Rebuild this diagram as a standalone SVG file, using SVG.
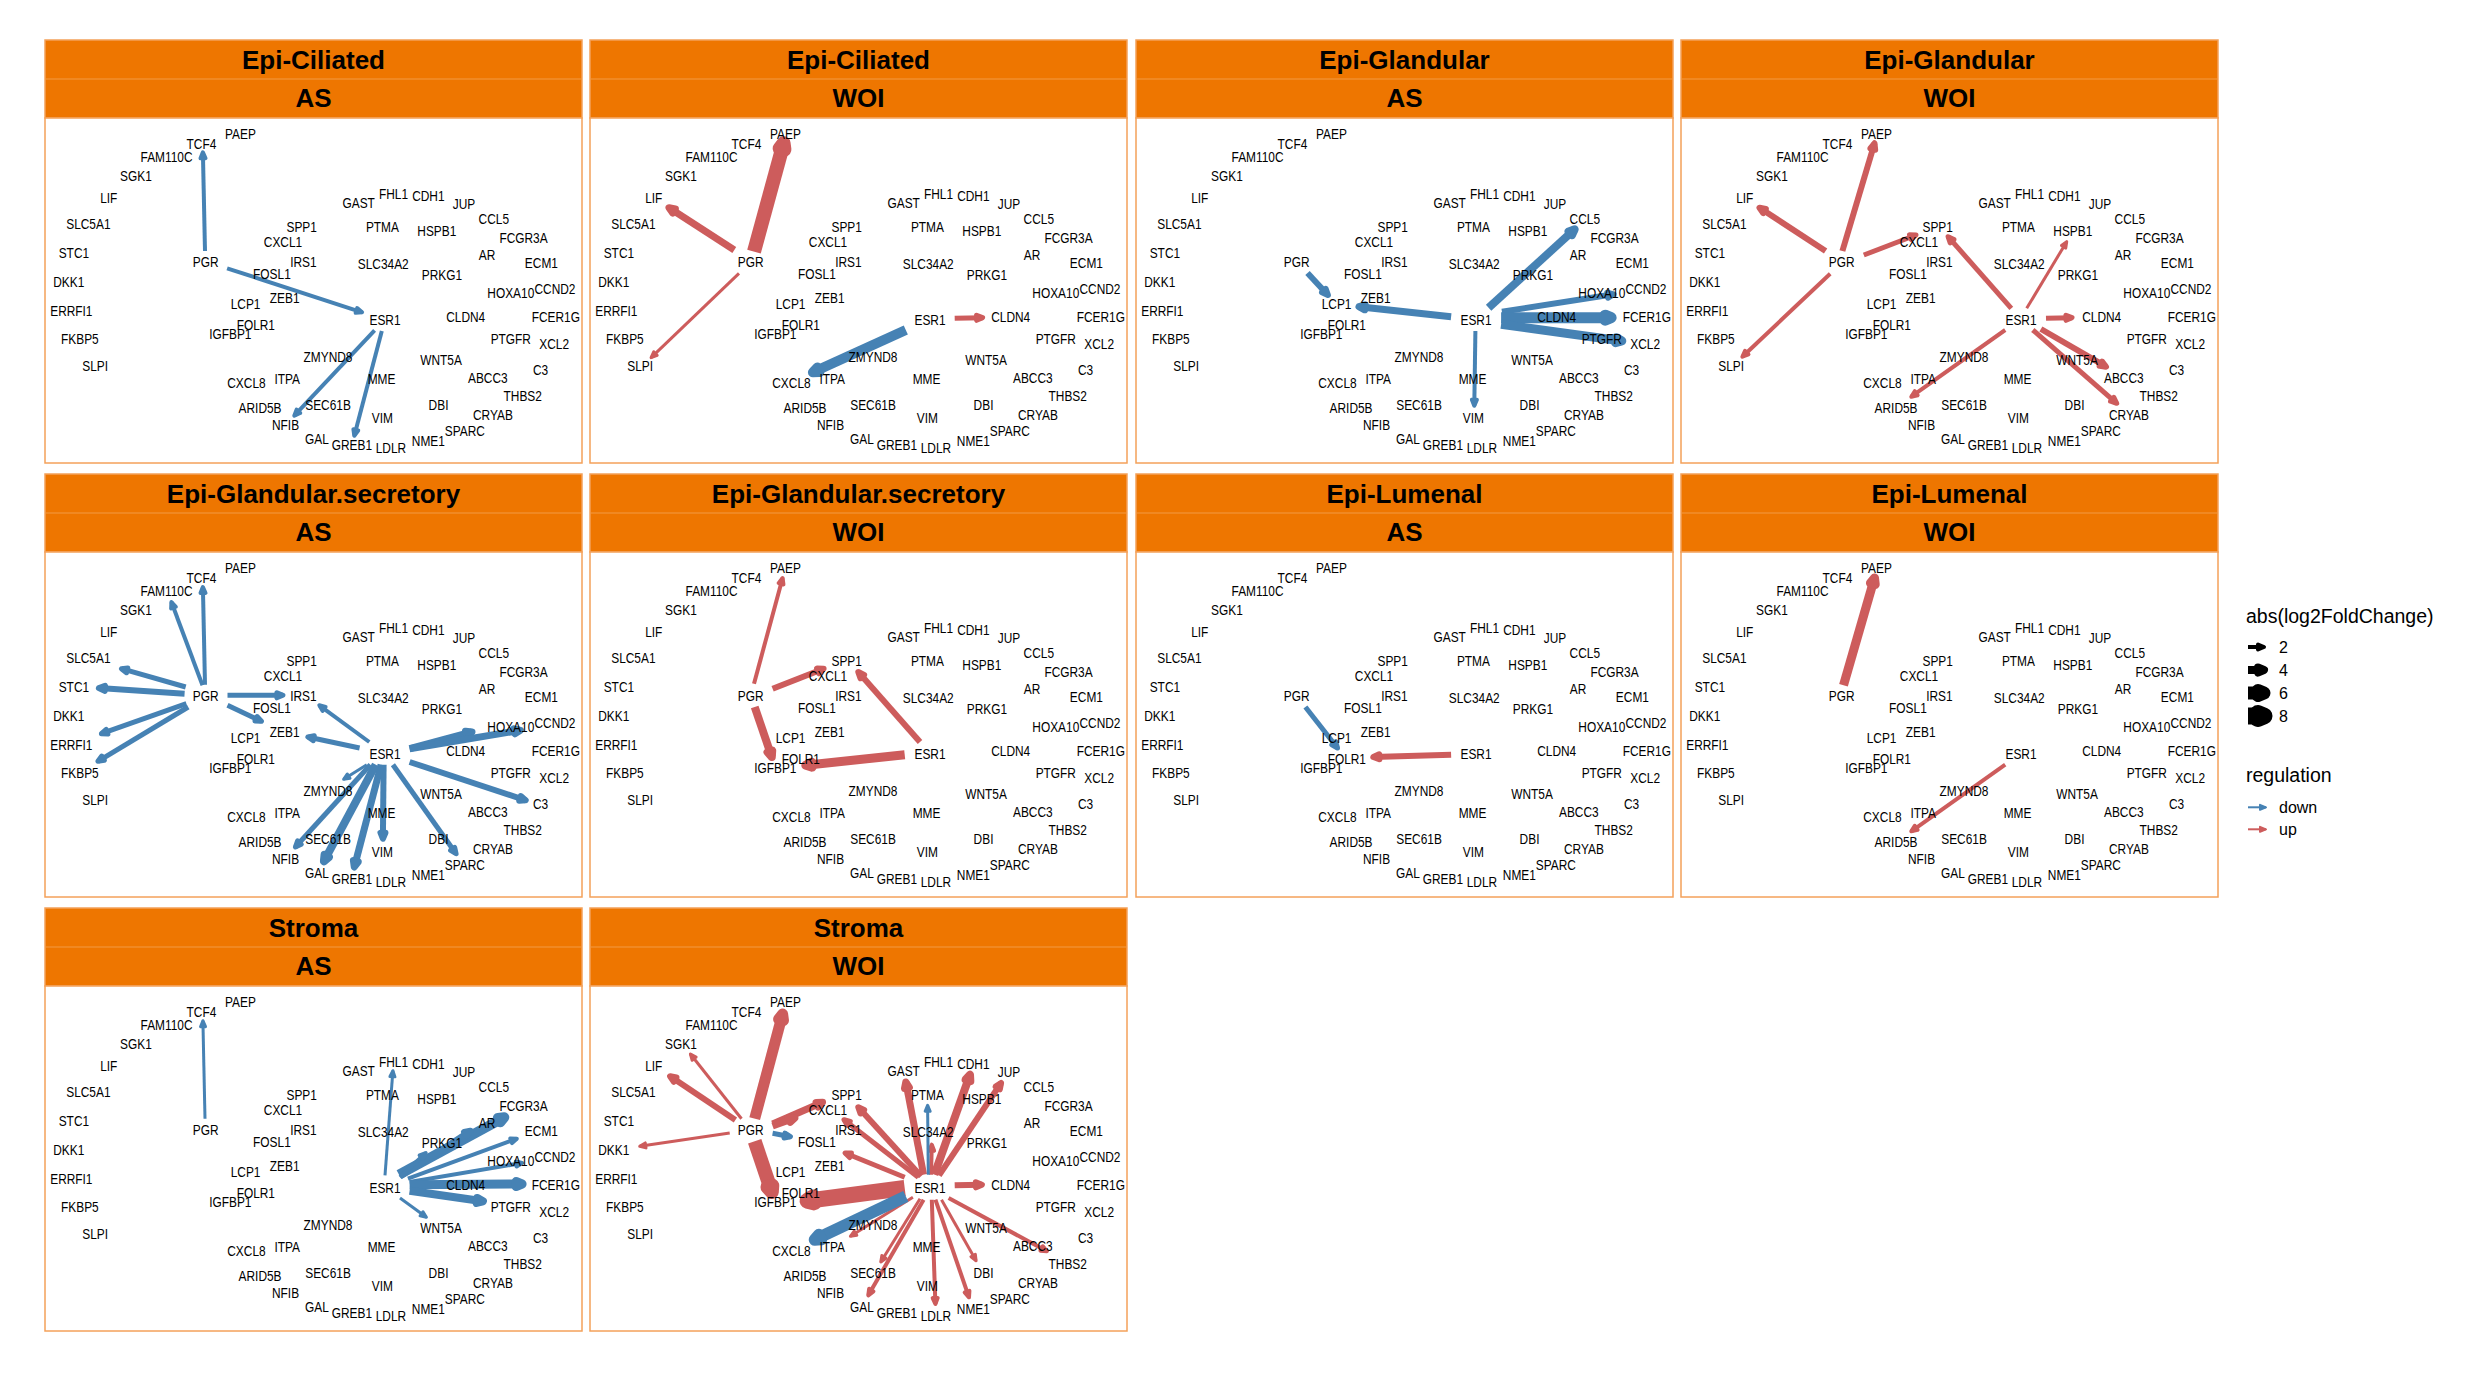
<svg xmlns="http://www.w3.org/2000/svg" width="2486" height="1376" viewBox="0 0 2486 1376">
<style>
.strip{fill:#EE7600;stroke:#F4A15A;stroke-width:1.5}
.body{fill:#fff;stroke:#F4A15A;stroke-width:1.5}
.div{stroke:#F29A45;stroke-width:1}
.ttl{font-family:"Liberation Sans",Arial,sans-serif;font-weight:bold;font-size:26px;text-anchor:middle;fill:#000}
.lbl text{font-family:"Liberation Sans",Arial,sans-serif;font-size:14px;text-anchor:middle;fill:#000}
.eb{stroke:#4682B4;fill:none}
.er{stroke:#CD5C5C;fill:none}
.ek{stroke:#000;fill:none}
.hb{fill:#4682B4;stroke:#4682B4;stroke-linejoin:round}
.hr{fill:#CD5C5C;stroke:#CD5C5C;stroke-linejoin:round}
.hk{fill:#000;stroke:#000;stroke-linejoin:round}
.lg{font-family:"Liberation Sans",Arial,sans-serif;fill:#000}
</style>
<defs>
<marker id="b2" viewBox="-30 -20 40 40" markerWidth="40" markerHeight="40" refX="0" refY="0" orient="auto" markerUnits="userSpaceOnUse" overflow="visible"><path class="hb" d="M-6,-2.5L0,0L-6,2.5Z" stroke-width="2"/></marker>
<marker id="b3" viewBox="-30 -20 40 40" markerWidth="40" markerHeight="40" refX="0" refY="0" orient="auto" markerUnits="userSpaceOnUse" overflow="visible"><path class="hb" d="M-6,-2.5L0,0L-6,2.5Z" stroke-width="3"/></marker>
<marker id="b4" viewBox="-30 -20 40 40" markerWidth="40" markerHeight="40" refX="0" refY="0" orient="auto" markerUnits="userSpaceOnUse" overflow="visible"><path class="hb" d="M-6,-2.5L0,0L-6,2.5Z" stroke-width="4"/></marker>
<marker id="b5" viewBox="-30 -20 40 40" markerWidth="40" markerHeight="40" refX="0" refY="0" orient="auto" markerUnits="userSpaceOnUse" overflow="visible"><path class="hb" d="M-6,-2.5L0,0L-6,2.5Z" stroke-width="5"/></marker>
<marker id="b6" viewBox="-30 -20 40 40" markerWidth="40" markerHeight="40" refX="0" refY="0" orient="auto" markerUnits="userSpaceOnUse" overflow="visible"><path class="hb" d="M-6,-2.5L0,0L-6,2.5Z" stroke-width="6"/></marker>
<marker id="b7" viewBox="-30 -20 40 40" markerWidth="40" markerHeight="40" refX="0" refY="0" orient="auto" markerUnits="userSpaceOnUse" overflow="visible"><path class="hb" d="M-6,-2.5L0,0L-6,2.5Z" stroke-width="7"/></marker>
<marker id="b8" viewBox="-30 -20 40 40" markerWidth="40" markerHeight="40" refX="0" refY="0" orient="auto" markerUnits="userSpaceOnUse" overflow="visible"><path class="hb" d="M-6,-2.5L0,0L-6,2.5Z" stroke-width="8"/></marker>
<marker id="b9" viewBox="-30 -20 40 40" markerWidth="40" markerHeight="40" refX="0" refY="0" orient="auto" markerUnits="userSpaceOnUse" overflow="visible"><path class="hb" d="M-6,-2.5L0,0L-6,2.5Z" stroke-width="9"/></marker>
<marker id="b10" viewBox="-30 -20 40 40" markerWidth="40" markerHeight="40" refX="0" refY="0" orient="auto" markerUnits="userSpaceOnUse" overflow="visible"><path class="hb" d="M-6,-2.5L0,0L-6,2.5Z" stroke-width="10"/></marker>
<marker id="b11" viewBox="-30 -20 40 40" markerWidth="40" markerHeight="40" refX="0" refY="0" orient="auto" markerUnits="userSpaceOnUse" overflow="visible"><path class="hb" d="M-6,-2.5L0,0L-6,2.5Z" stroke-width="11"/></marker>
<marker id="b12" viewBox="-30 -20 40 40" markerWidth="40" markerHeight="40" refX="0" refY="0" orient="auto" markerUnits="userSpaceOnUse" overflow="visible"><path class="hb" d="M-6,-2.5L0,0L-6,2.5Z" stroke-width="12"/></marker>
<marker id="r2" viewBox="-30 -20 40 40" markerWidth="40" markerHeight="40" refX="0" refY="0" orient="auto" markerUnits="userSpaceOnUse" overflow="visible"><path class="hr" d="M-6,-2.5L0,0L-6,2.5Z" stroke-width="2"/></marker>
<marker id="r3" viewBox="-30 -20 40 40" markerWidth="40" markerHeight="40" refX="0" refY="0" orient="auto" markerUnits="userSpaceOnUse" overflow="visible"><path class="hr" d="M-6,-2.5L0,0L-6,2.5Z" stroke-width="3"/></marker>
<marker id="r4" viewBox="-30 -20 40 40" markerWidth="40" markerHeight="40" refX="0" refY="0" orient="auto" markerUnits="userSpaceOnUse" overflow="visible"><path class="hr" d="M-6,-2.5L0,0L-6,2.5Z" stroke-width="4"/></marker>
<marker id="r5" viewBox="-30 -20 40 40" markerWidth="40" markerHeight="40" refX="0" refY="0" orient="auto" markerUnits="userSpaceOnUse" overflow="visible"><path class="hr" d="M-6,-2.5L0,0L-6,2.5Z" stroke-width="5"/></marker>
<marker id="r6" viewBox="-30 -20 40 40" markerWidth="40" markerHeight="40" refX="0" refY="0" orient="auto" markerUnits="userSpaceOnUse" overflow="visible"><path class="hr" d="M-6,-2.5L0,0L-6,2.5Z" stroke-width="6"/></marker>
<marker id="r7" viewBox="-30 -20 40 40" markerWidth="40" markerHeight="40" refX="0" refY="0" orient="auto" markerUnits="userSpaceOnUse" overflow="visible"><path class="hr" d="M-6,-2.5L0,0L-6,2.5Z" stroke-width="7"/></marker>
<marker id="r8" viewBox="-30 -20 40 40" markerWidth="40" markerHeight="40" refX="0" refY="0" orient="auto" markerUnits="userSpaceOnUse" overflow="visible"><path class="hr" d="M-6,-2.5L0,0L-6,2.5Z" stroke-width="8"/></marker>
<marker id="r9" viewBox="-30 -20 40 40" markerWidth="40" markerHeight="40" refX="0" refY="0" orient="auto" markerUnits="userSpaceOnUse" overflow="visible"><path class="hr" d="M-6,-2.5L0,0L-6,2.5Z" stroke-width="9"/></marker>
<marker id="r11" viewBox="-30 -20 40 40" markerWidth="40" markerHeight="40" refX="0" refY="0" orient="auto" markerUnits="userSpaceOnUse" overflow="visible"><path class="hr" d="M-6,-2.5L0,0L-6,2.5Z" stroke-width="11"/></marker>
<marker id="r14" viewBox="-30 -20 40 40" markerWidth="40" markerHeight="40" refX="0" refY="0" orient="auto" markerUnits="userSpaceOnUse" overflow="visible"><path class="hr" d="M-6,-2.5L0,0L-6,2.5Z" stroke-width="14"/></marker>
<marker id="r16" viewBox="-30 -20 40 40" markerWidth="40" markerHeight="40" refX="0" refY="0" orient="auto" markerUnits="userSpaceOnUse" overflow="visible"><path class="hr" d="M-6,-2.5L0,0L-6,2.5Z" stroke-width="16"/></marker>
<marker id="k4" viewBox="-30 -20 40 40" markerWidth="40" markerHeight="40" refX="0" refY="0" orient="auto" markerUnits="userSpaceOnUse" overflow="visible"><path class="hk" d="M-6,-2.5L0,0L-6,2.5Z" stroke-width="4"/></marker>
<marker id="k8" viewBox="-30 -20 40 40" markerWidth="40" markerHeight="40" refX="0" refY="0" orient="auto" markerUnits="userSpaceOnUse" overflow="visible"><path class="hk" d="M-6,-2.5L0,0L-6,2.5Z" stroke-width="8"/></marker>
<marker id="k13" viewBox="-30 -20 40 40" markerWidth="40" markerHeight="40" refX="0" refY="0" orient="auto" markerUnits="userSpaceOnUse" overflow="visible"><path class="hk" d="M-6,-2.5L0,0L-6,2.5Z" stroke-width="13"/></marker>
<marker id="k17" viewBox="-30 -20 40 40" markerWidth="40" markerHeight="40" refX="0" refY="0" orient="auto" markerUnits="userSpaceOnUse" overflow="visible"><path class="hk" d="M-6,-2.5L0,0L-6,2.5Z" stroke-width="17"/></marker>
</defs>
<rect width="2486" height="1376" fill="#fff"/>
<g id="panels">
<g id="panel-1" transform="translate(45,40)"><rect class="strip" width="537" height="78"/><line class="div" x1="0" y1="39" x2="537" y2="39"/><rect class="body" y="78" width="537" height="345"/><text class="ttl" x="268.5" y="28.5">Epi-Ciliated</text><text class="ttl" x="268.5" y="67">AS</text></g>
<g id="panel-2" transform="translate(590,40)"><rect class="strip" width="537" height="78"/><line class="div" x1="0" y1="39" x2="537" y2="39"/><rect class="body" y="78" width="537" height="345"/><text class="ttl" x="268.5" y="28.5">Epi-Ciliated</text><text class="ttl" x="268.5" y="67">WOI</text></g>
<g id="panel-3" transform="translate(1136,40)"><rect class="strip" width="537" height="78"/><line class="div" x1="0" y1="39" x2="537" y2="39"/><rect class="body" y="78" width="537" height="345"/><text class="ttl" x="268.5" y="28.5">Epi-Glandular</text><text class="ttl" x="268.5" y="67">AS</text></g>
<g id="panel-4" transform="translate(1681,40)"><rect class="strip" width="537" height="78"/><line class="div" x1="0" y1="39" x2="537" y2="39"/><rect class="body" y="78" width="537" height="345"/><text class="ttl" x="268.5" y="28.5">Epi-Glandular</text><text class="ttl" x="268.5" y="67">WOI</text></g>
<g id="panel-5" transform="translate(45,474)"><rect class="strip" width="537" height="78"/><line class="div" x1="0" y1="39" x2="537" y2="39"/><rect class="body" y="78" width="537" height="345"/><text class="ttl" x="268.5" y="28.5">Epi-Glandular.secretory</text><text class="ttl" x="268.5" y="67">AS</text></g>
<g id="panel-6" transform="translate(590,474)"><rect class="strip" width="537" height="78"/><line class="div" x1="0" y1="39" x2="537" y2="39"/><rect class="body" y="78" width="537" height="345"/><text class="ttl" x="268.5" y="28.5">Epi-Glandular.secretory</text><text class="ttl" x="268.5" y="67">WOI</text></g>
<g id="panel-7" transform="translate(1136,474)"><rect class="strip" width="537" height="78"/><line class="div" x1="0" y1="39" x2="537" y2="39"/><rect class="body" y="78" width="537" height="345"/><text class="ttl" x="268.5" y="28.5">Epi-Lumenal</text><text class="ttl" x="268.5" y="67">AS</text></g>
<g id="panel-8" transform="translate(1681,474)"><rect class="strip" width="537" height="78"/><line class="div" x1="0" y1="39" x2="537" y2="39"/><rect class="body" y="78" width="537" height="345"/><text class="ttl" x="268.5" y="28.5">Epi-Lumenal</text><text class="ttl" x="268.5" y="67">WOI</text></g>
<g id="panel-9" transform="translate(45,908)"><rect class="strip" width="537" height="78"/><line class="div" x1="0" y1="39" x2="537" y2="39"/><rect class="body" y="78" width="537" height="345"/><text class="ttl" x="268.5" y="28.5">Stroma</text><text class="ttl" x="268.5" y="67">AS</text></g>
<g id="panel-10" transform="translate(590,908)"><rect class="strip" width="537" height="78"/><line class="div" x1="0" y1="39" x2="537" y2="39"/><rect class="body" y="78" width="537" height="345"/><text class="ttl" x="268.5" y="28.5">Stroma</text><text class="ttl" x="268.5" y="67">WOI</text></g>
</g>
<g id="connectors">
<g id="edges-1" transform="translate(45,40)">
<line class="eb" x1="160" y1="211" x2="157.9" y2="112.3" stroke-width="4" marker-end="url(#b4)"/>
<line class="eb" x1="182.1" y1="228.3" x2="317.1" y2="272.3" stroke-width="4" marker-end="url(#b4)"/>
<line class="eb" x1="329.6" y1="290.3" x2="249.3" y2="375.7" stroke-width="4" marker-end="url(#b4)"/>
<line class="eb" x1="336.8" y1="291" x2="309.3" y2="395.7" stroke-width="4" marker-end="url(#b4)"/>
</g>
<g id="edges-2" transform="translate(590,40)">
<line class="er" x1="164" y1="211.7" x2="193.6" y2="103.3" stroke-width="14" marker-end="url(#r14)"/>
<line class="er" x1="144.3" y1="210" x2="79" y2="167.7" stroke-width="7" marker-end="url(#r7)"/>
<line class="er" x1="149" y1="233.3" x2="61.1" y2="317.7" stroke-width="3" marker-end="url(#r3)"/>
<line class="eb" x1="315.8" y1="290" x2="222.9" y2="332.3" stroke-width="10" marker-end="url(#b10)"/>
<line class="er" x1="364.7" y1="278.3" x2="392.6" y2="277.7" stroke-width="5" marker-end="url(#r5)"/>
</g>
<g id="edges-3" transform="translate(1136,40)">
<line class="eb" x1="171.5" y1="233" x2="191.9" y2="255" stroke-width="6" marker-end="url(#b6)"/>
<line class="eb" x1="315.1" y1="276.7" x2="223" y2="266.7" stroke-width="7" marker-end="url(#b7)"/>
<line class="eb" x1="352.6" y1="267.7" x2="438.7" y2="189.3" stroke-width="8" marker-end="url(#b8)"/>
<line class="eb" x1="365.9" y1="271.7" x2="477.6" y2="254.3" stroke-width="6" marker-end="url(#b6)"/>
<line class="eb" x1="365.1" y1="277.7" x2="475.1" y2="277.7" stroke-width="11" marker-end="url(#b11)"/>
<line class="eb" x1="365.1" y1="284.3" x2="485.8" y2="301" stroke-width="9" marker-end="url(#b9)"/>
<line class="eb" x1="339.4" y1="291" x2="338.3" y2="365.7" stroke-width="4" marker-end="url(#b4)"/>
</g>
<g id="edges-4" transform="translate(1681,40)">
<line class="er" x1="161.4" y1="211" x2="193.5" y2="103.3" stroke-width="6" marker-end="url(#r6)"/>
<line class="er" x1="144.6" y1="211" x2="78.5" y2="167.7" stroke-width="6" marker-end="url(#r6)"/>
<line class="er" x1="149.2" y1="233.7" x2="61.4" y2="316.7" stroke-width="4" marker-end="url(#r4)"/>
<line class="er" x1="182.8" y1="215" x2="235" y2="195" stroke-width="5" marker-end="url(#r5)"/>
<line class="er" x1="330.3" y1="268.3" x2="267.1" y2="196.7" stroke-width="5" marker-end="url(#r5)"/>
<line class="er" x1="345.7" y1="268.3" x2="385.7" y2="201.7" stroke-width="3" marker-end="url(#r3)"/>
<line class="er" x1="365" y1="278.3" x2="391" y2="277.7" stroke-width="5" marker-end="url(#r5)"/>
<line class="er" x1="359.9" y1="289" x2="425" y2="326.7" stroke-width="6" marker-end="url(#r6)"/>
<line class="er" x1="351.8" y1="290" x2="435.7" y2="363.3" stroke-width="5" marker-end="url(#r5)"/>
<line class="er" x1="324.2" y1="290" x2="230.3" y2="356.7" stroke-width="4" marker-end="url(#r4)"/>
</g>
<g id="edges-5" transform="translate(45,474)">
<line class="eb" x1="160" y1="210.7" x2="157.9" y2="113" stroke-width="4" marker-end="url(#b4)"/>
<line class="eb" x1="157.5" y1="211.3" x2="126.4" y2="128" stroke-width="4" marker-end="url(#b4)"/>
<line class="eb" x1="140.7" y1="213" x2="76.4" y2="194.7" stroke-width="5" marker-end="url(#b5)"/>
<line class="eb" x1="139.6" y1="219.7" x2="53.9" y2="214" stroke-width="6" marker-end="url(#b6)"/>
<line class="eb" x1="141.4" y1="229.7" x2="56.4" y2="259.7" stroke-width="5" marker-end="url(#b5)"/>
<line class="eb" x1="143.2" y1="233" x2="52.9" y2="287.3" stroke-width="5" marker-end="url(#b5)"/>
<line class="eb" x1="182.5" y1="221.3" x2="237.9" y2="221.3" stroke-width="5" marker-end="url(#b5)"/>
<line class="eb" x1="182.5" y1="231.3" x2="216.4" y2="247.3" stroke-width="5" marker-end="url(#b5)"/>
<line class="eb" x1="324.3" y1="268" x2="274.3" y2="231.3" stroke-width="4" marker-end="url(#b4)"/>
<line class="eb" x1="314.6" y1="274" x2="262.9" y2="263" stroke-width="5" marker-end="url(#b5)"/>
<line class="eb" x1="364.6" y1="274.7" x2="427" y2="258" stroke-width="7" marker-end="url(#b7)"/>
<line class="eb" x1="364.6" y1="274.7" x2="475.4" y2="256.3" stroke-width="7" marker-end="url(#b7)"/>
<line class="eb" x1="364.6" y1="288" x2="480.7" y2="326.3" stroke-width="6" marker-end="url(#b6)"/>
<line class="eb" x1="347.9" y1="290.7" x2="411.1" y2="379.7" stroke-width="5" marker-end="url(#b5)"/>
<line class="eb" x1="338.6" y1="290.7" x2="337.9" y2="364.7" stroke-width="6" marker-end="url(#b6)"/>
<line class="eb" x1="336.1" y1="290.7" x2="309.3" y2="393" stroke-width="7" marker-end="url(#b7)"/>
<line class="eb" x1="330.7" y1="290.7" x2="278.9" y2="387.3" stroke-width="8" marker-end="url(#b8)"/>
<line class="eb" x1="325.4" y1="290.7" x2="250.4" y2="373" stroke-width="5" marker-end="url(#b5)"/>
<line class="eb" x1="321.8" y1="290.7" x2="298.6" y2="305.3" stroke-width="3" marker-end="url(#b3)"/>
</g>
<g id="edges-6" transform="translate(590,474)">
<line class="er" x1="164" y1="209.7" x2="192.6" y2="104" stroke-width="4" marker-end="url(#r4)"/>
<line class="er" x1="182.6" y1="214.7" x2="233.6" y2="194.7" stroke-width="6" marker-end="url(#r6)"/>
<line class="er" x1="164.7" y1="233" x2="181.8" y2="283" stroke-width="8" marker-end="url(#r8)"/>
<line class="er" x1="330" y1="268" x2="268.3" y2="198" stroke-width="6" marker-end="url(#r6)"/>
<line class="er" x1="314.7" y1="280.7" x2="215.8" y2="291.3" stroke-width="9" marker-end="url(#r9)"/>
</g>
<g id="edges-7" transform="translate(1136,474)">
<line class="eb" x1="169.4" y1="233" x2="201.5" y2="274" stroke-width="5" marker-end="url(#b5)"/>
<line class="er" x1="315.1" y1="280.7" x2="237.3" y2="283" stroke-width="6" marker-end="url(#r6)"/>
</g>
<g id="edges-8" transform="translate(1681,474)">
<line class="er" x1="162.5" y1="211.3" x2="193.5" y2="104" stroke-width="9" marker-end="url(#r9)"/>
<line class="er" x1="324.2" y1="290.7" x2="230.3" y2="357.3" stroke-width="4" marker-end="url(#r4)"/>
</g>
<g id="edges-9" transform="translate(45,908)">
<line class="eb" x1="160" y1="210.7" x2="157.9" y2="112.7" stroke-width="3" marker-end="url(#b3)"/>
<line class="eb" x1="340" y1="267.3" x2="347.9" y2="162.7" stroke-width="3" marker-end="url(#b3)"/>
<line class="eb" x1="354" y1="266.7" x2="459.3" y2="209.3" stroke-width="10" marker-end="url(#b10)"/>
<line class="eb" x1="355.7" y1="268.3" x2="425.4" y2="222.7" stroke-width="6" marker-end="url(#b6)"/>
<line class="eb" x1="355" y1="269.3" x2="380.7" y2="245" stroke-width="4" marker-end="url(#b4)"/>
<line class="eb" x1="362.9" y1="270.7" x2="471.8" y2="230.7" stroke-width="4" marker-end="url(#b4)"/>
<line class="eb" x1="364.6" y1="274" x2="477.1" y2="255" stroke-width="4" marker-end="url(#b4)"/>
<line class="eb" x1="364.6" y1="276.7" x2="477.1" y2="276" stroke-width="9" marker-end="url(#b9)"/>
<line class="eb" x1="364.6" y1="282.7" x2="437.9" y2="293.3" stroke-width="8" marker-end="url(#b8)"/>
<line class="eb" x1="355" y1="290" x2="381.4" y2="309.3" stroke-width="3" marker-end="url(#b3)"/>
</g>
<g id="edges-10" transform="translate(590,908)">
<line class="er" x1="164.7" y1="210.7" x2="192.6" y2="106" stroke-width="11" marker-end="url(#r11)"/>
<line class="er" x1="151.5" y1="210.7" x2="100.4" y2="146" stroke-width="3" marker-end="url(#r3)"/>
<line class="er" x1="145.4" y1="212" x2="80.1" y2="168.3" stroke-width="6" marker-end="url(#r6)"/>
<line class="er" x1="139.7" y1="225" x2="49.7" y2="238.3" stroke-width="3" marker-end="url(#r3)"/>
<line class="er" x1="182.6" y1="216" x2="232.6" y2="194.3" stroke-width="7" marker-end="url(#r7)"/>
<line class="er" x1="182.6" y1="218" x2="205" y2="210" stroke-width="7" marker-end="url(#r7)"/>
<line class="eb" x1="182.6" y1="225.3" x2="200.4" y2="228.7" stroke-width="5" marker-end="url(#b5)"/>
<line class="er" x1="164.7" y1="233.3" x2="181.8" y2="284" stroke-width="14" marker-end="url(#r14)"/>
<line class="er" x1="314.7" y1="280" x2="217.6" y2="292.7" stroke-width="16" marker-end="url(#r16)"/>
<line class="er" x1="331.1" y1="268.3" x2="268.3" y2="199.3" stroke-width="6" marker-end="url(#r6)"/>
<line class="er" x1="328.3" y1="269.3" x2="254" y2="211.7" stroke-width="5" marker-end="url(#r5)"/>
<line class="er" x1="314.7" y1="269.3" x2="255" y2="245" stroke-width="5" marker-end="url(#r5)"/>
<line class="er" x1="333.6" y1="266.7" x2="315.8" y2="174" stroke-width="7" marker-end="url(#r7)"/>
<line class="er" x1="341" y1="266.7" x2="341.8" y2="236.7" stroke-width="4" marker-end="url(#r4)"/>
<line class="er" x1="344.4" y1="266.7" x2="380" y2="166.7" stroke-width="8" marker-end="url(#r8)"/>
<line class="er" x1="349" y1="267.3" x2="411.1" y2="175" stroke-width="6" marker-end="url(#r6)"/>
<line class="eb" x1="338.3" y1="266.7" x2="337.6" y2="197.3" stroke-width="3" marker-end="url(#b3)"/>
<line class="er" x1="364.7" y1="277.3" x2="391.9" y2="276.7" stroke-width="6" marker-end="url(#r6)"/>
<line class="er" x1="358.6" y1="290" x2="456.9" y2="343.3" stroke-width="4" marker-end="url(#r4)"/>
<line class="er" x1="351.5" y1="291.7" x2="386.1" y2="352.7" stroke-width="3" marker-end="url(#r3)"/>
<line class="er" x1="345.4" y1="291.7" x2="379" y2="389.3" stroke-width="4" marker-end="url(#r4)"/>
<line class="er" x1="341.8" y1="291.7" x2="345.4" y2="396" stroke-width="4" marker-end="url(#r4)"/>
<line class="er" x1="333.6" y1="291.7" x2="278.3" y2="387.3" stroke-width="4" marker-end="url(#r4)"/>
<line class="er" x1="330" y1="290.7" x2="290.8" y2="354" stroke-width="3" marker-end="url(#r3)"/>
<line class="er" x1="322.9" y1="289.3" x2="260.4" y2="328.3" stroke-width="3" marker-end="url(#r3)"/>
<line class="eb" x1="315.8" y1="288.3" x2="224.7" y2="331.7" stroke-width="12" marker-end="url(#b12)"/>
</g>
</g>
<g id="nodes" class="lbl">
<g id="labels-1" transform="translate(45,40) scale(0.85,1)">
<g id="p1-PAEP"><text x="230" y="99">PAEP</text></g><g id="p1-TCF4"><text x="184" y="109">TCF4</text></g><g id="p1-FAM110C"><text x="143" y="122">FAM110C</text></g><g id="p1-SGK1"><text x="107" y="141">SGK1</text></g><g id="p1-LIF"><text x="75" y="163">LIF</text></g><g id="p1-SLC5A1"><text x="51" y="189">SLC5A1</text></g><g id="p1-STC1"><text x="34" y="218">STC1</text></g><g id="p1-DKK1"><text x="28" y="247">DKK1</text></g><g id="p1-ERRFI1"><text x="31" y="276">ERRFI1</text></g><g id="p1-FKBP5"><text x="41" y="304">FKBP5</text></g><g id="p1-SLPI"><text x="59" y="331">SLPI</text></g><g id="p1-PGR"><text x="189" y="227">PGR</text></g><g id="p1-SPP1"><text x="302" y="192">SPP1</text></g><g id="p1-CXCL1"><text x="280" y="207">CXCL1</text></g><g id="p1-IRS1"><text x="304" y="227">IRS1</text></g><g id="p1-FOSL1"><text x="267" y="239">FOSL1</text></g><g id="p1-ZEB1"><text x="282" y="263">ZEB1</text></g><g id="p1-LCP1"><text x="236" y="269">LCP1</text></g><g id="p1-FOLR1"><text x="248" y="290">FOLR1</text></g><g id="p1-IGFBP1"><text x="218" y="299">IGFBP1</text></g><g id="p1-GAST"><text x="369" y="168">GAST</text></g><g id="p1-FHL1"><text x="410" y="159">FHL1</text></g><g id="p1-CDH1"><text x="451" y="161">CDH1</text></g><g id="p1-JUP"><text x="493" y="169">JUP</text></g><g id="p1-CCL5"><text x="528" y="184">CCL5</text></g><g id="p1-PTMA"><text x="397" y="192">PTMA</text></g><g id="p1-HSPB1"><text x="461" y="196">HSPB1</text></g><g id="p1-FCGR3A"><text x="563" y="203">FCGR3A</text></g><g id="p1-AR"><text x="520" y="220">AR</text></g><g id="p1-ECM1"><text x="584" y="228">ECM1</text></g><g id="p1-SLC34A2"><text x="398" y="229">SLC34A2</text></g><g id="p1-PRKG1"><text x="467" y="240">PRKG1</text></g><g id="p1-HOXA10"><text x="548" y="258">HOXA10</text></g><g id="p1-CCND2"><text x="600" y="254">CCND2</text></g><g id="p1-ESR1"><text x="400" y="285">ESR1</text></g><g id="p1-CLDN4"><text x="495" y="282">CLDN4</text></g><g id="p1-FCER1G"><text x="601" y="282">FCER1G</text></g><g id="p1-PTGFR"><text x="548" y="304">PTGFR</text></g><g id="p1-XCL2"><text x="599" y="309">XCL2</text></g><g id="p1-ZMYND8"><text x="333" y="322">ZMYND8</text></g><g id="p1-WNT5A"><text x="466" y="325">WNT5A</text></g><g id="p1-C3"><text x="583" y="335">C3</text></g><g id="p1-ABCC3"><text x="521" y="343">ABCC3</text></g><g id="p1-CXCL8"><text x="237" y="348">CXCL8</text></g><g id="p1-ITPA"><text x="285" y="344">ITPA</text></g><g id="p1-MME"><text x="396" y="344">MME</text></g><g id="p1-THBS2"><text x="562" y="361">THBS2</text></g><g id="p1-ARID5B"><text x="253" y="373">ARID5B</text></g><g id="p1-SEC61B"><text x="333" y="370">SEC61B</text></g><g id="p1-DBI"><text x="463" y="370">DBI</text></g><g id="p1-CRYAB"><text x="527" y="380">CRYAB</text></g><g id="p1-VIM"><text x="397" y="383">VIM</text></g><g id="p1-NFIB"><text x="283" y="390">NFIB</text></g><g id="p1-SPARC"><text x="494" y="396">SPARC</text></g><g id="p1-GAL"><text x="320" y="404">GAL</text></g><g id="p1-GREB1"><text x="361" y="410">GREB1</text></g><g id="p1-LDLR"><text x="407" y="413">LDLR</text></g><g id="p1-NME1"><text x="451" y="406">NME1</text></g>
</g>
<g id="labels-2" transform="translate(590,40) scale(0.85,1)">
<g id="p2-PAEP"><text x="230" y="99">PAEP</text></g><g id="p2-TCF4"><text x="184" y="109">TCF4</text></g><g id="p2-FAM110C"><text x="143" y="122">FAM110C</text></g><g id="p2-SGK1"><text x="107" y="141">SGK1</text></g><g id="p2-LIF"><text x="75" y="163">LIF</text></g><g id="p2-SLC5A1"><text x="51" y="189">SLC5A1</text></g><g id="p2-STC1"><text x="34" y="218">STC1</text></g><g id="p2-DKK1"><text x="28" y="247">DKK1</text></g><g id="p2-ERRFI1"><text x="31" y="276">ERRFI1</text></g><g id="p2-FKBP5"><text x="41" y="304">FKBP5</text></g><g id="p2-SLPI"><text x="59" y="331">SLPI</text></g><g id="p2-PGR"><text x="189" y="227">PGR</text></g><g id="p2-SPP1"><text x="302" y="192">SPP1</text></g><g id="p2-CXCL1"><text x="280" y="207">CXCL1</text></g><g id="p2-IRS1"><text x="304" y="227">IRS1</text></g><g id="p2-FOSL1"><text x="267" y="239">FOSL1</text></g><g id="p2-ZEB1"><text x="282" y="263">ZEB1</text></g><g id="p2-LCP1"><text x="236" y="269">LCP1</text></g><g id="p2-FOLR1"><text x="248" y="290">FOLR1</text></g><g id="p2-IGFBP1"><text x="218" y="299">IGFBP1</text></g><g id="p2-GAST"><text x="369" y="168">GAST</text></g><g id="p2-FHL1"><text x="410" y="159">FHL1</text></g><g id="p2-CDH1"><text x="451" y="161">CDH1</text></g><g id="p2-JUP"><text x="493" y="169">JUP</text></g><g id="p2-CCL5"><text x="528" y="184">CCL5</text></g><g id="p2-PTMA"><text x="397" y="192">PTMA</text></g><g id="p2-HSPB1"><text x="461" y="196">HSPB1</text></g><g id="p2-FCGR3A"><text x="563" y="203">FCGR3A</text></g><g id="p2-AR"><text x="520" y="220">AR</text></g><g id="p2-ECM1"><text x="584" y="228">ECM1</text></g><g id="p2-SLC34A2"><text x="398" y="229">SLC34A2</text></g><g id="p2-PRKG1"><text x="467" y="240">PRKG1</text></g><g id="p2-HOXA10"><text x="548" y="258">HOXA10</text></g><g id="p2-CCND2"><text x="600" y="254">CCND2</text></g><g id="p2-ESR1"><text x="400" y="285">ESR1</text></g><g id="p2-CLDN4"><text x="495" y="282">CLDN4</text></g><g id="p2-FCER1G"><text x="601" y="282">FCER1G</text></g><g id="p2-PTGFR"><text x="548" y="304">PTGFR</text></g><g id="p2-XCL2"><text x="599" y="309">XCL2</text></g><g id="p2-ZMYND8"><text x="333" y="322">ZMYND8</text></g><g id="p2-WNT5A"><text x="466" y="325">WNT5A</text></g><g id="p2-C3"><text x="583" y="335">C3</text></g><g id="p2-ABCC3"><text x="521" y="343">ABCC3</text></g><g id="p2-CXCL8"><text x="237" y="348">CXCL8</text></g><g id="p2-ITPA"><text x="285" y="344">ITPA</text></g><g id="p2-MME"><text x="396" y="344">MME</text></g><g id="p2-THBS2"><text x="562" y="361">THBS2</text></g><g id="p2-ARID5B"><text x="253" y="373">ARID5B</text></g><g id="p2-SEC61B"><text x="333" y="370">SEC61B</text></g><g id="p2-DBI"><text x="463" y="370">DBI</text></g><g id="p2-CRYAB"><text x="527" y="380">CRYAB</text></g><g id="p2-VIM"><text x="397" y="383">VIM</text></g><g id="p2-NFIB"><text x="283" y="390">NFIB</text></g><g id="p2-SPARC"><text x="494" y="396">SPARC</text></g><g id="p2-GAL"><text x="320" y="404">GAL</text></g><g id="p2-GREB1"><text x="361" y="410">GREB1</text></g><g id="p2-LDLR"><text x="407" y="413">LDLR</text></g><g id="p2-NME1"><text x="451" y="406">NME1</text></g>
</g>
<g id="labels-3" transform="translate(1136,40) scale(0.85,1)">
<g id="p3-PAEP"><text x="230" y="99">PAEP</text></g><g id="p3-TCF4"><text x="184" y="109">TCF4</text></g><g id="p3-FAM110C"><text x="143" y="122">FAM110C</text></g><g id="p3-SGK1"><text x="107" y="141">SGK1</text></g><g id="p3-LIF"><text x="75" y="163">LIF</text></g><g id="p3-SLC5A1"><text x="51" y="189">SLC5A1</text></g><g id="p3-STC1"><text x="34" y="218">STC1</text></g><g id="p3-DKK1"><text x="28" y="247">DKK1</text></g><g id="p3-ERRFI1"><text x="31" y="276">ERRFI1</text></g><g id="p3-FKBP5"><text x="41" y="304">FKBP5</text></g><g id="p3-SLPI"><text x="59" y="331">SLPI</text></g><g id="p3-PGR"><text x="189" y="227">PGR</text></g><g id="p3-SPP1"><text x="302" y="192">SPP1</text></g><g id="p3-CXCL1"><text x="280" y="207">CXCL1</text></g><g id="p3-IRS1"><text x="304" y="227">IRS1</text></g><g id="p3-FOSL1"><text x="267" y="239">FOSL1</text></g><g id="p3-ZEB1"><text x="282" y="263">ZEB1</text></g><g id="p3-LCP1"><text x="236" y="269">LCP1</text></g><g id="p3-FOLR1"><text x="248" y="290">FOLR1</text></g><g id="p3-IGFBP1"><text x="218" y="299">IGFBP1</text></g><g id="p3-GAST"><text x="369" y="168">GAST</text></g><g id="p3-FHL1"><text x="410" y="159">FHL1</text></g><g id="p3-CDH1"><text x="451" y="161">CDH1</text></g><g id="p3-JUP"><text x="493" y="169">JUP</text></g><g id="p3-CCL5"><text x="528" y="184">CCL5</text></g><g id="p3-PTMA"><text x="397" y="192">PTMA</text></g><g id="p3-HSPB1"><text x="461" y="196">HSPB1</text></g><g id="p3-FCGR3A"><text x="563" y="203">FCGR3A</text></g><g id="p3-AR"><text x="520" y="220">AR</text></g><g id="p3-ECM1"><text x="584" y="228">ECM1</text></g><g id="p3-SLC34A2"><text x="398" y="229">SLC34A2</text></g><g id="p3-PRKG1"><text x="467" y="240">PRKG1</text></g><g id="p3-HOXA10"><text x="548" y="258">HOXA10</text></g><g id="p3-CCND2"><text x="600" y="254">CCND2</text></g><g id="p3-ESR1"><text x="400" y="285">ESR1</text></g><g id="p3-CLDN4"><text x="495" y="282">CLDN4</text></g><g id="p3-FCER1G"><text x="601" y="282">FCER1G</text></g><g id="p3-PTGFR"><text x="548" y="304">PTGFR</text></g><g id="p3-XCL2"><text x="599" y="309">XCL2</text></g><g id="p3-ZMYND8"><text x="333" y="322">ZMYND8</text></g><g id="p3-WNT5A"><text x="466" y="325">WNT5A</text></g><g id="p3-C3"><text x="583" y="335">C3</text></g><g id="p3-ABCC3"><text x="521" y="343">ABCC3</text></g><g id="p3-CXCL8"><text x="237" y="348">CXCL8</text></g><g id="p3-ITPA"><text x="285" y="344">ITPA</text></g><g id="p3-MME"><text x="396" y="344">MME</text></g><g id="p3-THBS2"><text x="562" y="361">THBS2</text></g><g id="p3-ARID5B"><text x="253" y="373">ARID5B</text></g><g id="p3-SEC61B"><text x="333" y="370">SEC61B</text></g><g id="p3-DBI"><text x="463" y="370">DBI</text></g><g id="p3-CRYAB"><text x="527" y="380">CRYAB</text></g><g id="p3-VIM"><text x="397" y="383">VIM</text></g><g id="p3-NFIB"><text x="283" y="390">NFIB</text></g><g id="p3-SPARC"><text x="494" y="396">SPARC</text></g><g id="p3-GAL"><text x="320" y="404">GAL</text></g><g id="p3-GREB1"><text x="361" y="410">GREB1</text></g><g id="p3-LDLR"><text x="407" y="413">LDLR</text></g><g id="p3-NME1"><text x="451" y="406">NME1</text></g>
</g>
<g id="labels-4" transform="translate(1681,40) scale(0.85,1)">
<g id="p4-PAEP"><text x="230" y="99">PAEP</text></g><g id="p4-TCF4"><text x="184" y="109">TCF4</text></g><g id="p4-FAM110C"><text x="143" y="122">FAM110C</text></g><g id="p4-SGK1"><text x="107" y="141">SGK1</text></g><g id="p4-LIF"><text x="75" y="163">LIF</text></g><g id="p4-SLC5A1"><text x="51" y="189">SLC5A1</text></g><g id="p4-STC1"><text x="34" y="218">STC1</text></g><g id="p4-DKK1"><text x="28" y="247">DKK1</text></g><g id="p4-ERRFI1"><text x="31" y="276">ERRFI1</text></g><g id="p4-FKBP5"><text x="41" y="304">FKBP5</text></g><g id="p4-SLPI"><text x="59" y="331">SLPI</text></g><g id="p4-PGR"><text x="189" y="227">PGR</text></g><g id="p4-SPP1"><text x="302" y="192">SPP1</text></g><g id="p4-CXCL1"><text x="280" y="207">CXCL1</text></g><g id="p4-IRS1"><text x="304" y="227">IRS1</text></g><g id="p4-FOSL1"><text x="267" y="239">FOSL1</text></g><g id="p4-ZEB1"><text x="282" y="263">ZEB1</text></g><g id="p4-LCP1"><text x="236" y="269">LCP1</text></g><g id="p4-FOLR1"><text x="248" y="290">FOLR1</text></g><g id="p4-IGFBP1"><text x="218" y="299">IGFBP1</text></g><g id="p4-GAST"><text x="369" y="168">GAST</text></g><g id="p4-FHL1"><text x="410" y="159">FHL1</text></g><g id="p4-CDH1"><text x="451" y="161">CDH1</text></g><g id="p4-JUP"><text x="493" y="169">JUP</text></g><g id="p4-CCL5"><text x="528" y="184">CCL5</text></g><g id="p4-PTMA"><text x="397" y="192">PTMA</text></g><g id="p4-HSPB1"><text x="461" y="196">HSPB1</text></g><g id="p4-FCGR3A"><text x="563" y="203">FCGR3A</text></g><g id="p4-AR"><text x="520" y="220">AR</text></g><g id="p4-ECM1"><text x="584" y="228">ECM1</text></g><g id="p4-SLC34A2"><text x="398" y="229">SLC34A2</text></g><g id="p4-PRKG1"><text x="467" y="240">PRKG1</text></g><g id="p4-HOXA10"><text x="548" y="258">HOXA10</text></g><g id="p4-CCND2"><text x="600" y="254">CCND2</text></g><g id="p4-ESR1"><text x="400" y="285">ESR1</text></g><g id="p4-CLDN4"><text x="495" y="282">CLDN4</text></g><g id="p4-FCER1G"><text x="601" y="282">FCER1G</text></g><g id="p4-PTGFR"><text x="548" y="304">PTGFR</text></g><g id="p4-XCL2"><text x="599" y="309">XCL2</text></g><g id="p4-ZMYND8"><text x="333" y="322">ZMYND8</text></g><g id="p4-WNT5A"><text x="466" y="325">WNT5A</text></g><g id="p4-C3"><text x="583" y="335">C3</text></g><g id="p4-ABCC3"><text x="521" y="343">ABCC3</text></g><g id="p4-CXCL8"><text x="237" y="348">CXCL8</text></g><g id="p4-ITPA"><text x="285" y="344">ITPA</text></g><g id="p4-MME"><text x="396" y="344">MME</text></g><g id="p4-THBS2"><text x="562" y="361">THBS2</text></g><g id="p4-ARID5B"><text x="253" y="373">ARID5B</text></g><g id="p4-SEC61B"><text x="333" y="370">SEC61B</text></g><g id="p4-DBI"><text x="463" y="370">DBI</text></g><g id="p4-CRYAB"><text x="527" y="380">CRYAB</text></g><g id="p4-VIM"><text x="397" y="383">VIM</text></g><g id="p4-NFIB"><text x="283" y="390">NFIB</text></g><g id="p4-SPARC"><text x="494" y="396">SPARC</text></g><g id="p4-GAL"><text x="320" y="404">GAL</text></g><g id="p4-GREB1"><text x="361" y="410">GREB1</text></g><g id="p4-LDLR"><text x="407" y="413">LDLR</text></g><g id="p4-NME1"><text x="451" y="406">NME1</text></g>
</g>
<g id="labels-5" transform="translate(45,474) scale(0.85,1)">
<g id="p5-PAEP"><text x="230" y="99">PAEP</text></g><g id="p5-TCF4"><text x="184" y="109">TCF4</text></g><g id="p5-FAM110C"><text x="143" y="122">FAM110C</text></g><g id="p5-SGK1"><text x="107" y="141">SGK1</text></g><g id="p5-LIF"><text x="75" y="163">LIF</text></g><g id="p5-SLC5A1"><text x="51" y="189">SLC5A1</text></g><g id="p5-STC1"><text x="34" y="218">STC1</text></g><g id="p5-DKK1"><text x="28" y="247">DKK1</text></g><g id="p5-ERRFI1"><text x="31" y="276">ERRFI1</text></g><g id="p5-FKBP5"><text x="41" y="304">FKBP5</text></g><g id="p5-SLPI"><text x="59" y="331">SLPI</text></g><g id="p5-PGR"><text x="189" y="227">PGR</text></g><g id="p5-SPP1"><text x="302" y="192">SPP1</text></g><g id="p5-CXCL1"><text x="280" y="207">CXCL1</text></g><g id="p5-IRS1"><text x="304" y="227">IRS1</text></g><g id="p5-FOSL1"><text x="267" y="239">FOSL1</text></g><g id="p5-ZEB1"><text x="282" y="263">ZEB1</text></g><g id="p5-LCP1"><text x="236" y="269">LCP1</text></g><g id="p5-FOLR1"><text x="248" y="290">FOLR1</text></g><g id="p5-IGFBP1"><text x="218" y="299">IGFBP1</text></g><g id="p5-GAST"><text x="369" y="168">GAST</text></g><g id="p5-FHL1"><text x="410" y="159">FHL1</text></g><g id="p5-CDH1"><text x="451" y="161">CDH1</text></g><g id="p5-JUP"><text x="493" y="169">JUP</text></g><g id="p5-CCL5"><text x="528" y="184">CCL5</text></g><g id="p5-PTMA"><text x="397" y="192">PTMA</text></g><g id="p5-HSPB1"><text x="461" y="196">HSPB1</text></g><g id="p5-FCGR3A"><text x="563" y="203">FCGR3A</text></g><g id="p5-AR"><text x="520" y="220">AR</text></g><g id="p5-ECM1"><text x="584" y="228">ECM1</text></g><g id="p5-SLC34A2"><text x="398" y="229">SLC34A2</text></g><g id="p5-PRKG1"><text x="467" y="240">PRKG1</text></g><g id="p5-HOXA10"><text x="548" y="258">HOXA10</text></g><g id="p5-CCND2"><text x="600" y="254">CCND2</text></g><g id="p5-ESR1"><text x="400" y="285">ESR1</text></g><g id="p5-CLDN4"><text x="495" y="282">CLDN4</text></g><g id="p5-FCER1G"><text x="601" y="282">FCER1G</text></g><g id="p5-PTGFR"><text x="548" y="304">PTGFR</text></g><g id="p5-XCL2"><text x="599" y="309">XCL2</text></g><g id="p5-ZMYND8"><text x="333" y="322">ZMYND8</text></g><g id="p5-WNT5A"><text x="466" y="325">WNT5A</text></g><g id="p5-C3"><text x="583" y="335">C3</text></g><g id="p5-ABCC3"><text x="521" y="343">ABCC3</text></g><g id="p5-CXCL8"><text x="237" y="348">CXCL8</text></g><g id="p5-ITPA"><text x="285" y="344">ITPA</text></g><g id="p5-MME"><text x="396" y="344">MME</text></g><g id="p5-THBS2"><text x="562" y="361">THBS2</text></g><g id="p5-ARID5B"><text x="253" y="373">ARID5B</text></g><g id="p5-SEC61B"><text x="333" y="370">SEC61B</text></g><g id="p5-DBI"><text x="463" y="370">DBI</text></g><g id="p5-CRYAB"><text x="527" y="380">CRYAB</text></g><g id="p5-VIM"><text x="397" y="383">VIM</text></g><g id="p5-NFIB"><text x="283" y="390">NFIB</text></g><g id="p5-SPARC"><text x="494" y="396">SPARC</text></g><g id="p5-GAL"><text x="320" y="404">GAL</text></g><g id="p5-GREB1"><text x="361" y="410">GREB1</text></g><g id="p5-LDLR"><text x="407" y="413">LDLR</text></g><g id="p5-NME1"><text x="451" y="406">NME1</text></g>
</g>
<g id="labels-6" transform="translate(590,474) scale(0.85,1)">
<g id="p6-PAEP"><text x="230" y="99">PAEP</text></g><g id="p6-TCF4"><text x="184" y="109">TCF4</text></g><g id="p6-FAM110C"><text x="143" y="122">FAM110C</text></g><g id="p6-SGK1"><text x="107" y="141">SGK1</text></g><g id="p6-LIF"><text x="75" y="163">LIF</text></g><g id="p6-SLC5A1"><text x="51" y="189">SLC5A1</text></g><g id="p6-STC1"><text x="34" y="218">STC1</text></g><g id="p6-DKK1"><text x="28" y="247">DKK1</text></g><g id="p6-ERRFI1"><text x="31" y="276">ERRFI1</text></g><g id="p6-FKBP5"><text x="41" y="304">FKBP5</text></g><g id="p6-SLPI"><text x="59" y="331">SLPI</text></g><g id="p6-PGR"><text x="189" y="227">PGR</text></g><g id="p6-SPP1"><text x="302" y="192">SPP1</text></g><g id="p6-CXCL1"><text x="280" y="207">CXCL1</text></g><g id="p6-IRS1"><text x="304" y="227">IRS1</text></g><g id="p6-FOSL1"><text x="267" y="239">FOSL1</text></g><g id="p6-ZEB1"><text x="282" y="263">ZEB1</text></g><g id="p6-LCP1"><text x="236" y="269">LCP1</text></g><g id="p6-FOLR1"><text x="248" y="290">FOLR1</text></g><g id="p6-IGFBP1"><text x="218" y="299">IGFBP1</text></g><g id="p6-GAST"><text x="369" y="168">GAST</text></g><g id="p6-FHL1"><text x="410" y="159">FHL1</text></g><g id="p6-CDH1"><text x="451" y="161">CDH1</text></g><g id="p6-JUP"><text x="493" y="169">JUP</text></g><g id="p6-CCL5"><text x="528" y="184">CCL5</text></g><g id="p6-PTMA"><text x="397" y="192">PTMA</text></g><g id="p6-HSPB1"><text x="461" y="196">HSPB1</text></g><g id="p6-FCGR3A"><text x="563" y="203">FCGR3A</text></g><g id="p6-AR"><text x="520" y="220">AR</text></g><g id="p6-ECM1"><text x="584" y="228">ECM1</text></g><g id="p6-SLC34A2"><text x="398" y="229">SLC34A2</text></g><g id="p6-PRKG1"><text x="467" y="240">PRKG1</text></g><g id="p6-HOXA10"><text x="548" y="258">HOXA10</text></g><g id="p6-CCND2"><text x="600" y="254">CCND2</text></g><g id="p6-ESR1"><text x="400" y="285">ESR1</text></g><g id="p6-CLDN4"><text x="495" y="282">CLDN4</text></g><g id="p6-FCER1G"><text x="601" y="282">FCER1G</text></g><g id="p6-PTGFR"><text x="548" y="304">PTGFR</text></g><g id="p6-XCL2"><text x="599" y="309">XCL2</text></g><g id="p6-ZMYND8"><text x="333" y="322">ZMYND8</text></g><g id="p6-WNT5A"><text x="466" y="325">WNT5A</text></g><g id="p6-C3"><text x="583" y="335">C3</text></g><g id="p6-ABCC3"><text x="521" y="343">ABCC3</text></g><g id="p6-CXCL8"><text x="237" y="348">CXCL8</text></g><g id="p6-ITPA"><text x="285" y="344">ITPA</text></g><g id="p6-MME"><text x="396" y="344">MME</text></g><g id="p6-THBS2"><text x="562" y="361">THBS2</text></g><g id="p6-ARID5B"><text x="253" y="373">ARID5B</text></g><g id="p6-SEC61B"><text x="333" y="370">SEC61B</text></g><g id="p6-DBI"><text x="463" y="370">DBI</text></g><g id="p6-CRYAB"><text x="527" y="380">CRYAB</text></g><g id="p6-VIM"><text x="397" y="383">VIM</text></g><g id="p6-NFIB"><text x="283" y="390">NFIB</text></g><g id="p6-SPARC"><text x="494" y="396">SPARC</text></g><g id="p6-GAL"><text x="320" y="404">GAL</text></g><g id="p6-GREB1"><text x="361" y="410">GREB1</text></g><g id="p6-LDLR"><text x="407" y="413">LDLR</text></g><g id="p6-NME1"><text x="451" y="406">NME1</text></g>
</g>
<g id="labels-7" transform="translate(1136,474) scale(0.85,1)">
<g id="p7-PAEP"><text x="230" y="99">PAEP</text></g><g id="p7-TCF4"><text x="184" y="109">TCF4</text></g><g id="p7-FAM110C"><text x="143" y="122">FAM110C</text></g><g id="p7-SGK1"><text x="107" y="141">SGK1</text></g><g id="p7-LIF"><text x="75" y="163">LIF</text></g><g id="p7-SLC5A1"><text x="51" y="189">SLC5A1</text></g><g id="p7-STC1"><text x="34" y="218">STC1</text></g><g id="p7-DKK1"><text x="28" y="247">DKK1</text></g><g id="p7-ERRFI1"><text x="31" y="276">ERRFI1</text></g><g id="p7-FKBP5"><text x="41" y="304">FKBP5</text></g><g id="p7-SLPI"><text x="59" y="331">SLPI</text></g><g id="p7-PGR"><text x="189" y="227">PGR</text></g><g id="p7-SPP1"><text x="302" y="192">SPP1</text></g><g id="p7-CXCL1"><text x="280" y="207">CXCL1</text></g><g id="p7-IRS1"><text x="304" y="227">IRS1</text></g><g id="p7-FOSL1"><text x="267" y="239">FOSL1</text></g><g id="p7-ZEB1"><text x="282" y="263">ZEB1</text></g><g id="p7-LCP1"><text x="236" y="269">LCP1</text></g><g id="p7-FOLR1"><text x="248" y="290">FOLR1</text></g><g id="p7-IGFBP1"><text x="218" y="299">IGFBP1</text></g><g id="p7-GAST"><text x="369" y="168">GAST</text></g><g id="p7-FHL1"><text x="410" y="159">FHL1</text></g><g id="p7-CDH1"><text x="451" y="161">CDH1</text></g><g id="p7-JUP"><text x="493" y="169">JUP</text></g><g id="p7-CCL5"><text x="528" y="184">CCL5</text></g><g id="p7-PTMA"><text x="397" y="192">PTMA</text></g><g id="p7-HSPB1"><text x="461" y="196">HSPB1</text></g><g id="p7-FCGR3A"><text x="563" y="203">FCGR3A</text></g><g id="p7-AR"><text x="520" y="220">AR</text></g><g id="p7-ECM1"><text x="584" y="228">ECM1</text></g><g id="p7-SLC34A2"><text x="398" y="229">SLC34A2</text></g><g id="p7-PRKG1"><text x="467" y="240">PRKG1</text></g><g id="p7-HOXA10"><text x="548" y="258">HOXA10</text></g><g id="p7-CCND2"><text x="600" y="254">CCND2</text></g><g id="p7-ESR1"><text x="400" y="285">ESR1</text></g><g id="p7-CLDN4"><text x="495" y="282">CLDN4</text></g><g id="p7-FCER1G"><text x="601" y="282">FCER1G</text></g><g id="p7-PTGFR"><text x="548" y="304">PTGFR</text></g><g id="p7-XCL2"><text x="599" y="309">XCL2</text></g><g id="p7-ZMYND8"><text x="333" y="322">ZMYND8</text></g><g id="p7-WNT5A"><text x="466" y="325">WNT5A</text></g><g id="p7-C3"><text x="583" y="335">C3</text></g><g id="p7-ABCC3"><text x="521" y="343">ABCC3</text></g><g id="p7-CXCL8"><text x="237" y="348">CXCL8</text></g><g id="p7-ITPA"><text x="285" y="344">ITPA</text></g><g id="p7-MME"><text x="396" y="344">MME</text></g><g id="p7-THBS2"><text x="562" y="361">THBS2</text></g><g id="p7-ARID5B"><text x="253" y="373">ARID5B</text></g><g id="p7-SEC61B"><text x="333" y="370">SEC61B</text></g><g id="p7-DBI"><text x="463" y="370">DBI</text></g><g id="p7-CRYAB"><text x="527" y="380">CRYAB</text></g><g id="p7-VIM"><text x="397" y="383">VIM</text></g><g id="p7-NFIB"><text x="283" y="390">NFIB</text></g><g id="p7-SPARC"><text x="494" y="396">SPARC</text></g><g id="p7-GAL"><text x="320" y="404">GAL</text></g><g id="p7-GREB1"><text x="361" y="410">GREB1</text></g><g id="p7-LDLR"><text x="407" y="413">LDLR</text></g><g id="p7-NME1"><text x="451" y="406">NME1</text></g>
</g>
<g id="labels-8" transform="translate(1681,474) scale(0.85,1)">
<g id="p8-PAEP"><text x="230" y="99">PAEP</text></g><g id="p8-TCF4"><text x="184" y="109">TCF4</text></g><g id="p8-FAM110C"><text x="143" y="122">FAM110C</text></g><g id="p8-SGK1"><text x="107" y="141">SGK1</text></g><g id="p8-LIF"><text x="75" y="163">LIF</text></g><g id="p8-SLC5A1"><text x="51" y="189">SLC5A1</text></g><g id="p8-STC1"><text x="34" y="218">STC1</text></g><g id="p8-DKK1"><text x="28" y="247">DKK1</text></g><g id="p8-ERRFI1"><text x="31" y="276">ERRFI1</text></g><g id="p8-FKBP5"><text x="41" y="304">FKBP5</text></g><g id="p8-SLPI"><text x="59" y="331">SLPI</text></g><g id="p8-PGR"><text x="189" y="227">PGR</text></g><g id="p8-SPP1"><text x="302" y="192">SPP1</text></g><g id="p8-CXCL1"><text x="280" y="207">CXCL1</text></g><g id="p8-IRS1"><text x="304" y="227">IRS1</text></g><g id="p8-FOSL1"><text x="267" y="239">FOSL1</text></g><g id="p8-ZEB1"><text x="282" y="263">ZEB1</text></g><g id="p8-LCP1"><text x="236" y="269">LCP1</text></g><g id="p8-FOLR1"><text x="248" y="290">FOLR1</text></g><g id="p8-IGFBP1"><text x="218" y="299">IGFBP1</text></g><g id="p8-GAST"><text x="369" y="168">GAST</text></g><g id="p8-FHL1"><text x="410" y="159">FHL1</text></g><g id="p8-CDH1"><text x="451" y="161">CDH1</text></g><g id="p8-JUP"><text x="493" y="169">JUP</text></g><g id="p8-CCL5"><text x="528" y="184">CCL5</text></g><g id="p8-PTMA"><text x="397" y="192">PTMA</text></g><g id="p8-HSPB1"><text x="461" y="196">HSPB1</text></g><g id="p8-FCGR3A"><text x="563" y="203">FCGR3A</text></g><g id="p8-AR"><text x="520" y="220">AR</text></g><g id="p8-ECM1"><text x="584" y="228">ECM1</text></g><g id="p8-SLC34A2"><text x="398" y="229">SLC34A2</text></g><g id="p8-PRKG1"><text x="467" y="240">PRKG1</text></g><g id="p8-HOXA10"><text x="548" y="258">HOXA10</text></g><g id="p8-CCND2"><text x="600" y="254">CCND2</text></g><g id="p8-ESR1"><text x="400" y="285">ESR1</text></g><g id="p8-CLDN4"><text x="495" y="282">CLDN4</text></g><g id="p8-FCER1G"><text x="601" y="282">FCER1G</text></g><g id="p8-PTGFR"><text x="548" y="304">PTGFR</text></g><g id="p8-XCL2"><text x="599" y="309">XCL2</text></g><g id="p8-ZMYND8"><text x="333" y="322">ZMYND8</text></g><g id="p8-WNT5A"><text x="466" y="325">WNT5A</text></g><g id="p8-C3"><text x="583" y="335">C3</text></g><g id="p8-ABCC3"><text x="521" y="343">ABCC3</text></g><g id="p8-CXCL8"><text x="237" y="348">CXCL8</text></g><g id="p8-ITPA"><text x="285" y="344">ITPA</text></g><g id="p8-MME"><text x="396" y="344">MME</text></g><g id="p8-THBS2"><text x="562" y="361">THBS2</text></g><g id="p8-ARID5B"><text x="253" y="373">ARID5B</text></g><g id="p8-SEC61B"><text x="333" y="370">SEC61B</text></g><g id="p8-DBI"><text x="463" y="370">DBI</text></g><g id="p8-CRYAB"><text x="527" y="380">CRYAB</text></g><g id="p8-VIM"><text x="397" y="383">VIM</text></g><g id="p8-NFIB"><text x="283" y="390">NFIB</text></g><g id="p8-SPARC"><text x="494" y="396">SPARC</text></g><g id="p8-GAL"><text x="320" y="404">GAL</text></g><g id="p8-GREB1"><text x="361" y="410">GREB1</text></g><g id="p8-LDLR"><text x="407" y="413">LDLR</text></g><g id="p8-NME1"><text x="451" y="406">NME1</text></g>
</g>
<g id="labels-9" transform="translate(45,908) scale(0.85,1)">
<g id="p9-PAEP"><text x="230" y="99">PAEP</text></g><g id="p9-TCF4"><text x="184" y="109">TCF4</text></g><g id="p9-FAM110C"><text x="143" y="122">FAM110C</text></g><g id="p9-SGK1"><text x="107" y="141">SGK1</text></g><g id="p9-LIF"><text x="75" y="163">LIF</text></g><g id="p9-SLC5A1"><text x="51" y="189">SLC5A1</text></g><g id="p9-STC1"><text x="34" y="218">STC1</text></g><g id="p9-DKK1"><text x="28" y="247">DKK1</text></g><g id="p9-ERRFI1"><text x="31" y="276">ERRFI1</text></g><g id="p9-FKBP5"><text x="41" y="304">FKBP5</text></g><g id="p9-SLPI"><text x="59" y="331">SLPI</text></g><g id="p9-PGR"><text x="189" y="227">PGR</text></g><g id="p9-SPP1"><text x="302" y="192">SPP1</text></g><g id="p9-CXCL1"><text x="280" y="207">CXCL1</text></g><g id="p9-IRS1"><text x="304" y="227">IRS1</text></g><g id="p9-FOSL1"><text x="267" y="239">FOSL1</text></g><g id="p9-ZEB1"><text x="282" y="263">ZEB1</text></g><g id="p9-LCP1"><text x="236" y="269">LCP1</text></g><g id="p9-FOLR1"><text x="248" y="290">FOLR1</text></g><g id="p9-IGFBP1"><text x="218" y="299">IGFBP1</text></g><g id="p9-GAST"><text x="369" y="168">GAST</text></g><g id="p9-FHL1"><text x="410" y="159">FHL1</text></g><g id="p9-CDH1"><text x="451" y="161">CDH1</text></g><g id="p9-JUP"><text x="493" y="169">JUP</text></g><g id="p9-CCL5"><text x="528" y="184">CCL5</text></g><g id="p9-PTMA"><text x="397" y="192">PTMA</text></g><g id="p9-HSPB1"><text x="461" y="196">HSPB1</text></g><g id="p9-FCGR3A"><text x="563" y="203">FCGR3A</text></g><g id="p9-AR"><text x="520" y="220">AR</text></g><g id="p9-ECM1"><text x="584" y="228">ECM1</text></g><g id="p9-SLC34A2"><text x="398" y="229">SLC34A2</text></g><g id="p9-PRKG1"><text x="467" y="240">PRKG1</text></g><g id="p9-HOXA10"><text x="548" y="258">HOXA10</text></g><g id="p9-CCND2"><text x="600" y="254">CCND2</text></g><g id="p9-ESR1"><text x="400" y="285">ESR1</text></g><g id="p9-CLDN4"><text x="495" y="282">CLDN4</text></g><g id="p9-FCER1G"><text x="601" y="282">FCER1G</text></g><g id="p9-PTGFR"><text x="548" y="304">PTGFR</text></g><g id="p9-XCL2"><text x="599" y="309">XCL2</text></g><g id="p9-ZMYND8"><text x="333" y="322">ZMYND8</text></g><g id="p9-WNT5A"><text x="466" y="325">WNT5A</text></g><g id="p9-C3"><text x="583" y="335">C3</text></g><g id="p9-ABCC3"><text x="521" y="343">ABCC3</text></g><g id="p9-CXCL8"><text x="237" y="348">CXCL8</text></g><g id="p9-ITPA"><text x="285" y="344">ITPA</text></g><g id="p9-MME"><text x="396" y="344">MME</text></g><g id="p9-THBS2"><text x="562" y="361">THBS2</text></g><g id="p9-ARID5B"><text x="253" y="373">ARID5B</text></g><g id="p9-SEC61B"><text x="333" y="370">SEC61B</text></g><g id="p9-DBI"><text x="463" y="370">DBI</text></g><g id="p9-CRYAB"><text x="527" y="380">CRYAB</text></g><g id="p9-VIM"><text x="397" y="383">VIM</text></g><g id="p9-NFIB"><text x="283" y="390">NFIB</text></g><g id="p9-SPARC"><text x="494" y="396">SPARC</text></g><g id="p9-GAL"><text x="320" y="404">GAL</text></g><g id="p9-GREB1"><text x="361" y="410">GREB1</text></g><g id="p9-LDLR"><text x="407" y="413">LDLR</text></g><g id="p9-NME1"><text x="451" y="406">NME1</text></g>
</g>
<g id="labels-10" transform="translate(590,908) scale(0.85,1)">
<g id="p10-PAEP"><text x="230" y="99">PAEP</text></g><g id="p10-TCF4"><text x="184" y="109">TCF4</text></g><g id="p10-FAM110C"><text x="143" y="122">FAM110C</text></g><g id="p10-SGK1"><text x="107" y="141">SGK1</text></g><g id="p10-LIF"><text x="75" y="163">LIF</text></g><g id="p10-SLC5A1"><text x="51" y="189">SLC5A1</text></g><g id="p10-STC1"><text x="34" y="218">STC1</text></g><g id="p10-DKK1"><text x="28" y="247">DKK1</text></g><g id="p10-ERRFI1"><text x="31" y="276">ERRFI1</text></g><g id="p10-FKBP5"><text x="41" y="304">FKBP5</text></g><g id="p10-SLPI"><text x="59" y="331">SLPI</text></g><g id="p10-PGR"><text x="189" y="227">PGR</text></g><g id="p10-SPP1"><text x="302" y="192">SPP1</text></g><g id="p10-CXCL1"><text x="280" y="207">CXCL1</text></g><g id="p10-IRS1"><text x="304" y="227">IRS1</text></g><g id="p10-FOSL1"><text x="267" y="239">FOSL1</text></g><g id="p10-ZEB1"><text x="282" y="263">ZEB1</text></g><g id="p10-LCP1"><text x="236" y="269">LCP1</text></g><g id="p10-FOLR1"><text x="248" y="290">FOLR1</text></g><g id="p10-IGFBP1"><text x="218" y="299">IGFBP1</text></g><g id="p10-GAST"><text x="369" y="168">GAST</text></g><g id="p10-FHL1"><text x="410" y="159">FHL1</text></g><g id="p10-CDH1"><text x="451" y="161">CDH1</text></g><g id="p10-JUP"><text x="493" y="169">JUP</text></g><g id="p10-CCL5"><text x="528" y="184">CCL5</text></g><g id="p10-PTMA"><text x="397" y="192">PTMA</text></g><g id="p10-HSPB1"><text x="461" y="196">HSPB1</text></g><g id="p10-FCGR3A"><text x="563" y="203">FCGR3A</text></g><g id="p10-AR"><text x="520" y="220">AR</text></g><g id="p10-ECM1"><text x="584" y="228">ECM1</text></g><g id="p10-SLC34A2"><text x="398" y="229">SLC34A2</text></g><g id="p10-PRKG1"><text x="467" y="240">PRKG1</text></g><g id="p10-HOXA10"><text x="548" y="258">HOXA10</text></g><g id="p10-CCND2"><text x="600" y="254">CCND2</text></g><g id="p10-ESR1"><text x="400" y="285">ESR1</text></g><g id="p10-CLDN4"><text x="495" y="282">CLDN4</text></g><g id="p10-FCER1G"><text x="601" y="282">FCER1G</text></g><g id="p10-PTGFR"><text x="548" y="304">PTGFR</text></g><g id="p10-XCL2"><text x="599" y="309">XCL2</text></g><g id="p10-ZMYND8"><text x="333" y="322">ZMYND8</text></g><g id="p10-WNT5A"><text x="466" y="325">WNT5A</text></g><g id="p10-C3"><text x="583" y="335">C3</text></g><g id="p10-ABCC3"><text x="521" y="343">ABCC3</text></g><g id="p10-CXCL8"><text x="237" y="348">CXCL8</text></g><g id="p10-ITPA"><text x="285" y="344">ITPA</text></g><g id="p10-MME"><text x="396" y="344">MME</text></g><g id="p10-THBS2"><text x="562" y="361">THBS2</text></g><g id="p10-ARID5B"><text x="253" y="373">ARID5B</text></g><g id="p10-SEC61B"><text x="333" y="370">SEC61B</text></g><g id="p10-DBI"><text x="463" y="370">DBI</text></g><g id="p10-CRYAB"><text x="527" y="380">CRYAB</text></g><g id="p10-VIM"><text x="397" y="383">VIM</text></g><g id="p10-NFIB"><text x="283" y="390">NFIB</text></g><g id="p10-SPARC"><text x="494" y="396">SPARC</text></g><g id="p10-GAL"><text x="320" y="404">GAL</text></g><g id="p10-GREB1"><text x="361" y="410">GREB1</text></g><g id="p10-LDLR"><text x="407" y="413">LDLR</text></g><g id="p10-NME1"><text x="451" y="406">NME1</text></g>
</g>
</g>
<g id="legend">
<text class="lg" x="2246" y="623" font-size="19.5">abs(log2FoldChange)</text>
<line class="ek" x1="2248" y1="647" x2="2264" y2="647" stroke-width="4" marker-end="url(#k4)"/>
<line class="ek" x1="2248" y1="670" x2="2264" y2="670" stroke-width="8" marker-end="url(#k8)"/>
<line class="ek" x1="2248" y1="693" x2="2264" y2="693" stroke-width="13" marker-end="url(#k13)"/>
<line class="ek" x1="2248" y1="716" x2="2264" y2="716" stroke-width="17" marker-end="url(#k17)"/>
<text class="lg" x="2279" y="652.7" font-size="16">2</text>
<text class="lg" x="2279" y="675.7" font-size="16">4</text>
<text class="lg" x="2279" y="698.7" font-size="16">6</text>
<text class="lg" x="2279" y="721.7" font-size="16">8</text>
<text class="lg" x="2246" y="782" font-size="19.5">regulation</text>
<line class="eb" x1="2248" y1="807.3" x2="2266" y2="807.3" stroke-width="2" marker-end="url(#b2)"/>
<line class="er" x1="2248" y1="829.3" x2="2266" y2="829.3" stroke-width="2" marker-end="url(#r2)"/>
<text class="lg" x="2279" y="812.7" font-size="16">down</text>
<text class="lg" x="2279" y="834.7" font-size="16">up</text>
</g>
</svg>
